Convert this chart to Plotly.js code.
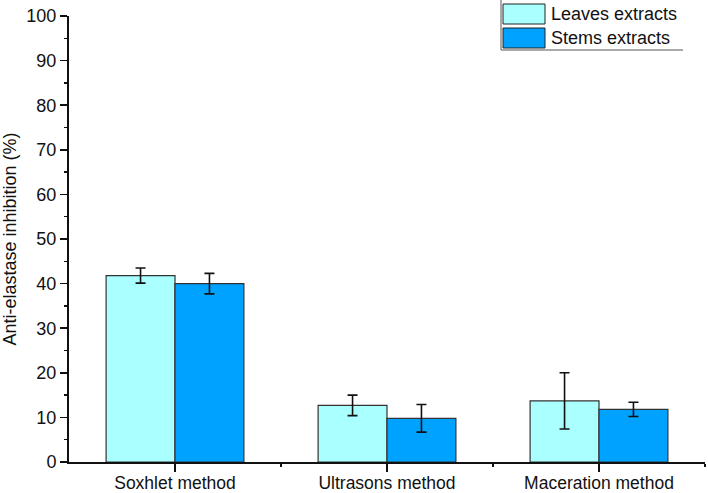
<!DOCTYPE html>
<html>
<head>
<meta charset="utf-8">
<script src="https://cdn.plot.ly/plotly-3.0.1.min.js"></script>
<style>html,body{margin:0;padding:0;background:#fff;}#chart{width:708px;height:493px;}</style>
</head>
<body>
<div id="chart"></div>
<script>
const categories = ["Soxhlet method", "Ultrasons method", "Maceration method"];
const seriesNames = ["Leaves extracts", "Stems extracts"];
const leavesValues = [41.8, 12.7, 13.7];
const leavesErrors = [1.7, 2.3, 6.3];
const stemsValues = [40.0, 9.8, 11.8];
const stemsErrors = [2.3, 3.1, 1.6];
const yTickValues = [0, 10, 20, 30, 40, 50, 60, 70, 80, 90, 100];

const colors = ["#AAFFFF", "#00A2FF"];
const xIdx = categories.map((c, i) => i);

const L = 69, R = 705, T = 16, B = 462, W = 708, H = 493;
const px = p => (p - L) / (R - L);
const py = p => (B - p) / (B - T);

const font = {family: "Liberation Sans, Arial, sans-serif", size: 18, color: "#111"};
const xFont = {family: "Liberation Sans, Arial, sans-serif", size: 17.5, color: "#111"};

function barTrace(name, vals, errs, color) {
  return {
    type: "bar", name: name, x: xIdx, y: vals,
    marker: {color: color, line: {color: "#333", width: 1.2}},
    error_y: {type: "data", array: errs, visible: true, color: "#111", thickness: 1.6, width: 5},
    showlegend: false
  };
}

const data = [
  barTrace(seriesNames[0], leavesValues, leavesErrors, colors[0]),
  barTrace(seriesNames[1], stemsValues, stemsErrors, colors[1])
];

const shapes = [
  {type: "line", xref: "paper", yref: "paper", x0: px(501), x1: px(501), y0: py(0), y1: py(50), line: {color: "#555", width: 1}},
  {type: "line", xref: "paper", yref: "paper", x0: px(501), x1: px(683), y0: py(50), y1: py(50), line: {color: "#555", width: 1}},
  {type: "rect", xref: "paper", yref: "paper", x0: px(503), x1: px(545), y0: py(4), y1: py(24), fillcolor: colors[0], line: {color: "#222", width: 1}},
  {type: "rect", xref: "paper", yref: "paper", x0: px(503), x1: px(545), y0: py(28), y1: py(48), fillcolor: colors[1], line: {color: "#222", width: 1}}
];
const annotations = [
  {xref: "paper", yref: "paper", x: px(549), y: py(14), text: seriesNames[0], showarrow: false, xanchor: "left", yanchor: "middle", font: font},
  {xref: "paper", yref: "paper", x: px(549), y: py(38), text: seriesNames[1], showarrow: false, xanchor: "left", yanchor: "middle", font: font}
];

const layout = {
  width: W, height: H,
  margin: {l: L, r: W - R, t: T, b: H - B, pad: 0},
  paper_bgcolor: "#fff", plot_bgcolor: "#fff",
  font: font,
  bargap: 0.35, bargroupgap: 0, barmode: "group",
  xaxis: {
    range: [-0.5, 2.5], tickmode: "array", tickvals: xIdx, ticktext: categories,
    showline: true, linecolor: "#111", linewidth: 1.5,
    ticks: "outside", ticklen: 8, tickwidth: 1.2, tickcolor: "#111",
    ticklabelstandoff: -4,
    minor: {tickmode: "array", tickvals: [0.5, 1.5, 2.5], ticks: "outside", ticklen: 3, tickwidth: 1.2, tickcolor: "#111"},
    showgrid: false, zeroline: false, tickfont: xFont, fixedrange: true, automargin: false
  },
  yaxis: {
    range: [0, 100], tickmode: "array", tickvals: yTickValues,
    showline: true, linecolor: "#111", linewidth: 2,
    ticks: "outside", ticklen: 7, tickwidth: 1.5, tickcolor: "#111",
    minor: {dtick: 5, tick0: 0, ticks: "outside", ticklen: 3.5, tickwidth: 1.5, tickcolor: "#111", showgrid: false},
    showgrid: false, zeroline: false, tickfont: font,
    title: {text: "Anti-elastase inhibition (%)", font: font, standoff: 8},
    fixedrange: true, automargin: false
  },
  shapes: shapes, annotations: annotations
};

Plotly.newPlot("chart", data, layout, {displayModeBar: false, staticPlot: true});
</script>
</body>
</html>
